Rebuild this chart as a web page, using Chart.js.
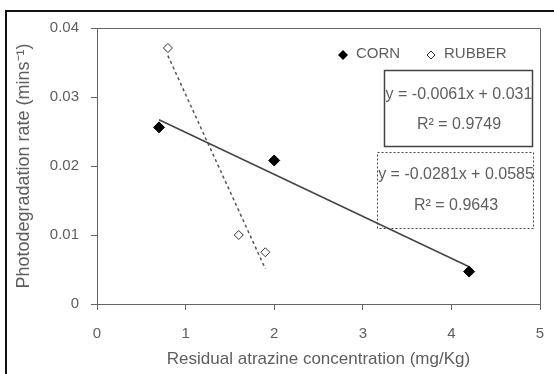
<!DOCTYPE html>
<html>
<head>
<meta charset="utf-8">
<script src="https://cdn.jsdelivr.net/npm/chart.js@4/dist/chart.umd.min.js"></script>
<style>
  html, body { margin: 0; padding: 0; background: #fff; }
  #wrap { width: 554px; height: 374px; }
</style>
</head>
<body>
<div id="wrap"><canvas id="myChart" width="554" height="374"></canvas></div>
<script>
// data
const cornX = [0.7, 2.0, 4.2];
const cornY = [0.0256, 0.0208, 0.0047];
const rubberX = [0.8, 1.6, 1.9];
const rubberY = [0.0371, 0.0100, 0.0075];
// trendline end points
const cornTrendX = [0.7, 4.2];
const cornTrendY = [0.0267, 0.0054];
const rubberTrendX = [0.8, 1.9];
const rubberTrendY = [0.0360, 0.0051];
const xTicks = [0, 1, 2, 3, 4, 5];
const yTicks = [0, 0.01, 0.02, 0.03, 0.04];
const cornEq = ['y = -0.0061x + 0.031', 'R\u00B2 = 0.9749'];
const rubberEq = ['y = -0.0281x + 0.0585', 'R\u00B2 = 0.9643'];

function pts(xs, ys) {
    return xs.map(function (x, i) { return {x: x, y: ys[i]}; });
}

const txt = '#5e5e5e';
const font = "'Liberation Sans', Arial, sans-serif";

// frame, legend and equation boxes
const extras = {
    id: 'extras',
    afterDraw: function (chart) {
        const c = chart.ctx;
        const a = chart.chartArea;
        c.save();
        // outer picture frame (left + top)
        c.strokeStyle = '#111';
        c.lineWidth = 2;
        c.beginPath();
        c.moveTo(6, 374);
        c.lineTo(6, 11);
        c.lineTo(554, 11);
        c.stroke();
        // plot box top and right
        c.strokeStyle = '#666';
        c.lineWidth = 1;
        c.beginPath();
        c.moveTo(a.left, a.top + 0.5);
        c.lineTo(a.right + 0.5, a.top + 0.5);
        c.lineTo(a.right + 0.5, a.bottom);
        c.stroke();

        // legend
        c.font = '15px ' + font;
        c.textBaseline = 'middle';
        c.textAlign = 'left';
        c.fillStyle = '#000';
        c.beginPath();
        c.moveTo(343, 50); c.lineTo(348, 55); c.lineTo(343, 60); c.lineTo(338, 55);
        c.closePath(); c.fill();
        c.fillStyle = txt;
        c.fillText('CORN', 356, 54);
        c.strokeStyle = '#333';
        c.lineWidth = 1;
        c.beginPath();
        c.moveTo(431, 51); c.lineTo(435, 55); c.lineTo(431, 59); c.lineTo(427, 55);
        c.closePath(); c.stroke();
        c.fillText('RUBBER', 444, 54);

        // equation boxes
        c.font = '16px ' + font;
        c.textAlign = 'center';
        c.strokeStyle = '#444';
        c.lineWidth = 1.5;
        c.strokeRect(384.5, 70.5, 148, 76);
        c.fillText(cornEq[0], 459, 95);
        c.fillText(cornEq[1], 459, 125);
        c.setLineDash([2, 2]);
        c.lineWidth = 1;
        c.strokeRect(377.5, 152.5, 156, 76);
        c.setLineDash([]);
        c.fillText(rubberEq[0], 456, 175);
        c.fillText(rubberEq[1], 456, 206);
        c.restore();
    }
};

const ctx = document.getElementById('myChart').getContext('2d');
const myChart = new Chart(ctx, {
    type: 'scatter',
    data: {
        datasets: [
            {
                label: 'CORN',
                data: pts(cornX, cornY),
                pointStyle: 'rectRot',
                pointRadius: 5.5,
                backgroundColor: '#000',
                borderColor: '#000',
                borderWidth: 1
            },
            {
                label: 'RUBBER',
                data: pts(rubberX, rubberY),
                pointStyle: 'rectRot',
                pointRadius: 4.5,
                backgroundColor: '#fff',
                borderColor: '#333',
                borderWidth: 1
            },
            {
                label: 'corn trend',
                data: pts(cornTrendX, cornTrendY),
                showLine: true,
                pointRadius: 0,
                borderColor: '#444',
                borderWidth: 1.5
            },
            {
                label: 'rubber trend',
                data: pts(rubberTrendX, rubberTrendY),
                showLine: true,
                pointRadius: 0,
                borderColor: '#555',
                borderWidth: 1.5,
                borderDash: [3, 3]
            }
        ]
    },
    options: {
        responsive: false,
        animation: false,
        layout: {padding: {left: 0, top: 28, right: 14, bottom: 0}},
        plugins: {
            legend: {display: false},
            tooltip: {enabled: false}
        },
        scales: {
            x: {
                type: 'linear',
                min: 0,
                max: 5,
                afterBuildTicks: function (s) { s.ticks = xTicks.map(function (v) { return {value: v}; }); },
                afterFit: function (s) {
                    s.height = 70;
                    s.paddingLeft = 0;
                    s.paddingRight = 0;
                },
                grid: {drawOnChartArea: false, drawTicks: true, tickLength: 6, color: '#666'},
                border: {color: '#666', width: 1},
                ticks: {color: txt, font: {family: font, size: 15}, padding: 15},
                title: {
                    display: true,
                    text: 'Residual atrazine concentration (mg/Kg)',
                    color: txt,
                    font: {family: font, size: 17},
                    padding: {top: 5}
                }
            },
            y: {
                type: 'linear',
                min: 0,
                max: 0.04,
                afterBuildTicks: function (s) { s.ticks = yTicks.map(function (v) { return {value: v}; }); },
                afterFit: function (s) {
                    s.width = 97;
                    s.paddingTop = 0;
                    s.paddingBottom = 0;
                },
                grid: {drawOnChartArea: false, drawTicks: true, tickLength: 6, color: '#666'},
                border: {color: '#666', width: 1},
                ticks: {
                    color: txt,
                    font: {family: font, size: 15},
                    padding: 12,
                    callback: function (v) { return String(v); }
                },
                title: {
                    display: true,
                    text: 'Photodegradation rate (mins\u207B\u00B9)',
                    color: txt,
                    font: {family: font, size: 18},
                    padding: {top: 13, bottom: 0}
                }
            }
        }
    },
    plugins: [extras]
});
</script>
</body>
</html>
